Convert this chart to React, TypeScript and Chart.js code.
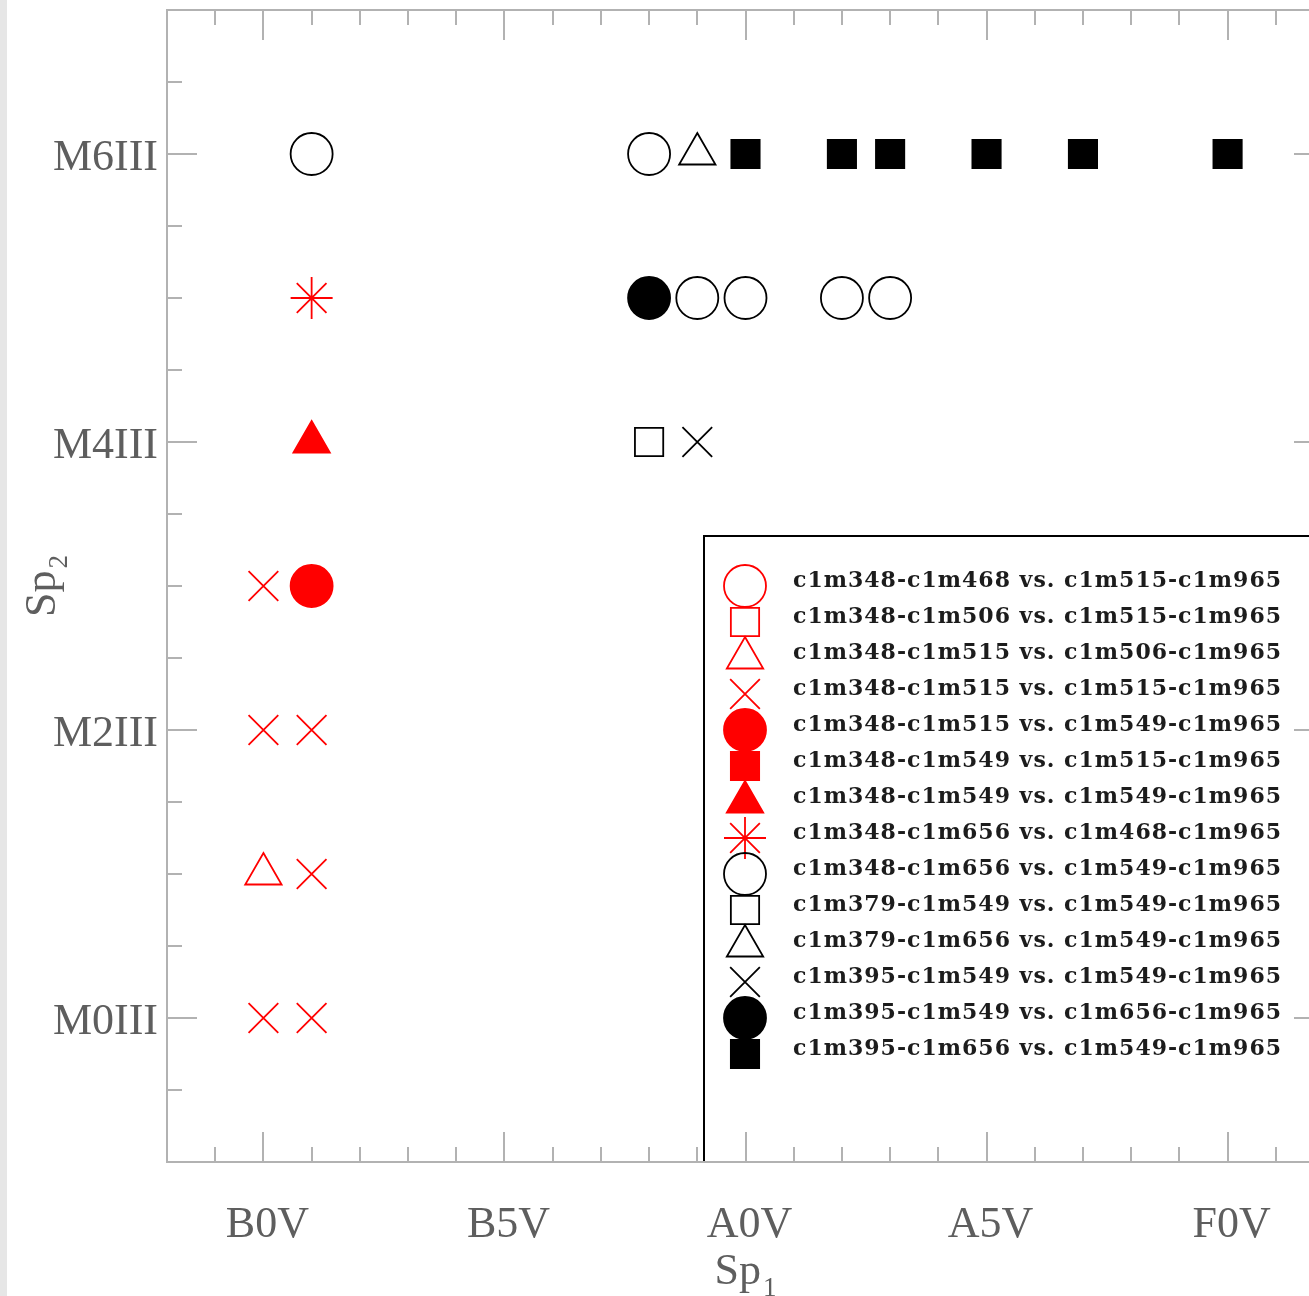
import React, { useEffect, useRef } from 'react';
import { Chart, registerables } from 'chart.js';
import { drawPoint } from 'chart.js/helpers';

Chart.register(...registerables);

// ---- axes ----
const xMin = -2;
const xMax = 22;
const yMin = -1;
const yMax = 7;
const xTickValues = [0, 5, 10, 15, 20];
const xTickLabels = ['B0V', 'B5V', 'A0V', 'A5V', 'F0V'];
const yTickValues = [0, 2, 4, 6];
const yTickLabels = ['M0III', 'M2III', 'M4III', 'M6III'];

// ---- series labels ----
const seriesLabels = [
  'c1m348-c1m468 vs. c1m515-c1m965',
  'c1m348-c1m506 vs. c1m515-c1m965',
  'c1m348-c1m515 vs. c1m506-c1m965',
  'c1m348-c1m515 vs. c1m515-c1m965',
  'c1m348-c1m515 vs. c1m549-c1m965',
  'c1m348-c1m549 vs. c1m515-c1m965',
  'c1m348-c1m549 vs. c1m549-c1m965',
  'c1m348-c1m656 vs. c1m468-c1m965',
  'c1m348-c1m656 vs. c1m549-c1m965',
  'c1m379-c1m549 vs. c1m549-c1m965',
  'c1m379-c1m656 vs. c1m549-c1m965',
  'c1m395-c1m549 vs. c1m549-c1m965',
  'c1m395-c1m549 vs. c1m656-c1m965',
  'c1m395-c1m656 vs. c1m549-c1m965',
];

// ---- series points [Sp1, Sp2] ----
const s01: number[][] = [];
const s02: number[][] = [];
const s03: number[][] = [[0, 1]];
const s04: number[][] = [[0, 3], [0, 2], [1, 2], [1, 1], [0, 0], [1, 0]];
const s05: number[][] = [[1, 3]];
const s06: number[][] = [];
const s07: number[][] = [[1, 4]];
const s08: number[][] = [[1, 5]];
const s09: number[][] = [[1, 6], [8, 6], [9, 5], [10, 5], [12, 5], [13, 5]];
const s10: number[][] = [[8, 4]];
const s11: number[][] = [[9, 6]];
const s12: number[][] = [[9, 4]];
const s13: number[][] = [[8, 5]];
const s14: number[][] = [[10, 6], [12, 6], [13, 6], [15, 6], [17, 6], [20, 6]];

const seriesPoints = [s01, s02, s03, s04, s05, s06, s07, s08, s09, s10, s11, s12, s13, s14];

const RED = '#ff0000';
const BLACK = '#000000';
type Sty = { color: string; style: string; filled: boolean };
const seriesStyles: Sty[] = [
  { color: RED, style: 'circle', filled: false },
  { color: RED, style: 'rect', filled: false },
  { color: RED, style: 'triangle', filled: false },
  { color: RED, style: 'crossRot', filled: false },
  { color: RED, style: 'circle', filled: true },
  { color: RED, style: 'rect', filled: true },
  { color: RED, style: 'triangle', filled: true },
  { color: RED, style: 'star', filled: false },
  { color: BLACK, style: 'circle', filled: false },
  { color: BLACK, style: 'rect', filled: false },
  { color: BLACK, style: 'triangle', filled: false },
  { color: BLACK, style: 'crossRot', filled: false },
  { color: BLACK, style: 'circle', filled: true },
  { color: BLACK, style: 'rect', filled: true },
];

const AXIS_COLOR = '#b2b2b2';
const LABEL_COLOR = '#5e5e5e';
const SERIF = '"Liberation Serif", "Times New Roman", serif';

const framePlugin = {
  id: 'framePlugin',
  afterDraw(chart: any) {
    const { ctx, chartArea: a } = chart;
    const xs = chart.scales.x;
    const ys = chart.scales.y;
    ctx.save();

    // ---- legend box ----
    const lx = 704;
    const ly = 536;
    ctx.fillStyle = '#ffffff';
    ctx.fillRect(lx, ly, a.right - lx, a.bottom - ly);
    ctx.strokeStyle = '#000000';
    ctx.lineWidth = 2;
    ctx.strokeRect(lx, ly, a.right - lx, a.bottom - ly);

    chart.data.datasets.forEach((ds: any, i: number) => {
      const cy = 586 + 36 * i;
      ctx.save();
      ctx.fillStyle = ds.backgroundColor;
      ctx.strokeStyle = ds.borderColor;
      ctx.lineWidth = ds.borderWidth;
      drawPoint(
        ctx,
        { pointStyle: ds.pointStyle, radius: ds.pointRadius, rotation: 0, borderWidth: ds.borderWidth } as any,
        745,
        cy
      );
      ctx.restore();
      ctx.save();
      ctx.fillStyle = '#1c1c1c';
      ctx.font = 'bold 22px "DejaVu Serif"';
      (ctx as any).letterSpacing = '1px';
      ctx.textAlign = 'left';
      ctx.textBaseline = 'alphabetic';
      ctx.fillText(ds.label, 793, cy + 1);
      ctx.restore();
    });

    // ---- frame ----
    ctx.strokeStyle = AXIS_COLOR;
    ctx.lineWidth = 2;
    ctx.strokeRect(a.left, a.top, a.right - a.left, a.bottom - a.top);

    ctx.beginPath();
    for (let v = xMin + 1; v < xMax; v += 1) {
      const len = xTickValues.includes(v) ? 30 : 15;
      const px = Math.round(xs.getPixelForValue(v));
      ctx.moveTo(px, a.top);
      ctx.lineTo(px, a.top + len);
      ctx.moveTo(px, a.bottom);
      ctx.lineTo(px, a.bottom - len);
    }
    for (let v = yMin + 0.5; v < yMax; v += 0.5) {
      const len = yTickValues.includes(v) ? 30 : 15;
      const py = Math.round(ys.getPixelForValue(v));
      ctx.moveTo(a.left, py);
      ctx.lineTo(a.left + len, py);
      ctx.moveTo(a.right, py);
      ctx.lineTo(a.right - len, py);
    }
    ctx.stroke();

    // ---- tick labels ----
    ctx.fillStyle = LABEL_COLOR;
    ctx.font = `44px ${SERIF}`;
    ctx.textBaseline = 'alphabetic';
    ctx.textAlign = 'center';
    xTickValues.forEach((v, i) => {
      ctx.fillText(xTickLabels[i], xs.getPixelForValue(v) + 4, a.bottom + 75);
    });
    ctx.textAlign = 'right';
    yTickValues.forEach((v, i) => {
      ctx.fillText(yTickLabels[i], a.left - 9, ys.getPixelForValue(v) + 16);
    });

    // ---- axis titles ----
    const bigFont = `44px ${SERIF}`;
    const subFont = `27px ${SERIF}`;
    ctx.textAlign = 'left';
    ctx.font = bigFont;
    const wSp = ctx.measureText('Sp').width;
    ctx.font = subFont;
    const w1 = ctx.measureText('1').width;
    const w2 = ctx.measureText('2').width;

    // x title
    const cx = (a.left + a.right) / 2;
    let sx = cx - (wSp + 2 + w1) / 2;
    ctx.font = bigFont;
    ctx.fillText('Sp', sx, a.bottom + 122);
    ctx.font = subFont;
    ctx.fillText('1', sx + wSp + 2, a.bottom + 134);

    // y title
    const cyT = (a.top + a.bottom) / 2;
    ctx.save();
    ctx.translate(55, cyT);
    ctx.rotate(-Math.PI / 2);
    sx = -(wSp + 2 + w2) / 2;
    ctx.font = bigFont;
    ctx.fillText('Sp', sx, 0);
    ctx.font = subFont;
    ctx.fillText('2', sx + wSp + 2, 12);
    ctx.restore();

    ctx.restore();
  },
};

export default function App() {
  const ref = useRef<HTMLCanvasElement | null>(null);

  useEffect(() => {
    if (!ref.current) return;
    const datasets = seriesLabels.map((label, i) => {
      const st = seriesStyles[i];
      return {
        label,
        data: seriesPoints[i].map(([x, y]) => ({ x, y })),
        pointStyle: st.style,
        pointRadius: st.style === 'rect' ? 20 : 21,
        backgroundColor: st.filled ? st.color : 'rgba(0,0,0,0)',
        borderColor: st.color,
        borderWidth: 1.8,
        showLine: false,
      };
    });
    const chart = new Chart(ref.current, {
      type: 'scatter',
      data: { datasets } as any,
      options: {
        responsive: false,
        animation: false,
        events: [],
        layout: { autoPadding: false, padding: { left: 167, top: 10, right: 16, bottom: 134 } },
        scales: {
          x: { type: 'linear', min: xMin, max: xMax, display: false },
          y: { type: 'linear', min: yMin, max: yMax, display: false },
        },
        plugins: { legend: { display: false }, tooltip: { enabled: false } },
      } as any,
      plugins: [framePlugin],
    });
    return () => chart.destroy();
  }, []);

  return (
    <div
      style={{
        position: 'absolute',
        left: 0,
        top: 0,
        width: 1309,
        height: 1296,
        overflow: 'hidden',
        background: '#ffffff',
      }}
    >
      <div style={{ position: 'absolute', left: 0, top: 0, width: 7, height: 1296, background: '#e6e6e6' }} />
      <canvas
        ref={ref}
        width={1340}
        height={1296}
        style={{ position: 'absolute', left: 0, top: 0, width: 1340, height: 1296 }}
      />
    </div>
  );
}
